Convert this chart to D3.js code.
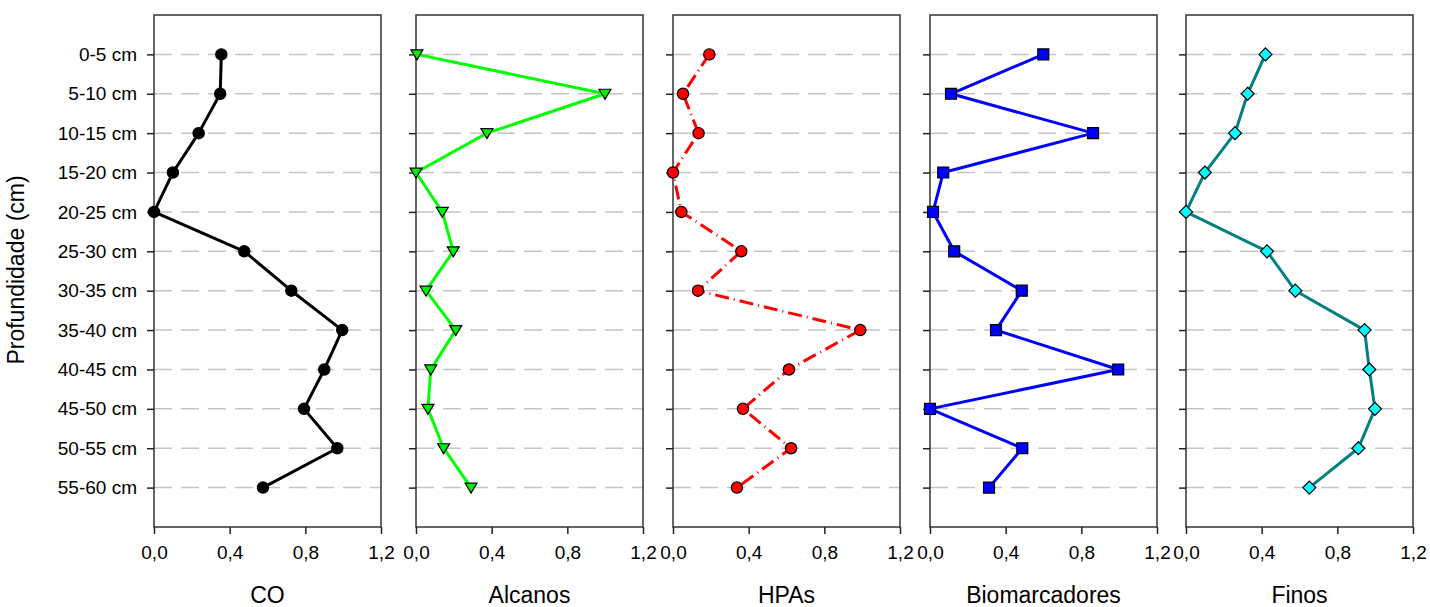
<!DOCTYPE html>
<html>
<head>
<meta charset="utf-8">
<script src="https://cdn.jsdelivr.net/npm/d3@7"></script>
<style>
  body { margin: 0; background: #fff; }
  text { font-family: "Liberation Sans", Arial, sans-serif; fill: #000; }
</style>
</head>
<body>
<svg id="chart"></svg>
<script>
// depth classes (y categories)
var depths = ['0-5 cm', '5-10 cm', '10-15 cm', '15-20 cm', '20-25 cm', '25-30 cm',
              '30-35 cm', '35-40 cm', '40-45 cm', '45-50 cm', '50-55 cm', '55-60 cm'];
var xTicks = [0, 0.4, 0.8, 1.2];

// normalised values
var co = [0.356, 0.35, 0.236, 0.10, 0.0, 0.477, 0.726, 0.995, 0.90, 0.793, 0.969, 0.576];
var alcanos = [0.005, 0.999, 0.375, 0.0, 0.139, 0.197, 0.053, 0.21, 0.078, 0.063, 0.146, 0.291];
var hpas = [0.192, 0.053, 0.135, 0.0, 0.044, 0.361, 0.132, 0.99, 0.613, 0.37, 0.624, 0.338];
var biomarcadores = [0.599, 0.111, 0.862, 0.07, 0.016, 0.128, 0.485, 0.349, 0.995, 0.0, 0.488, 0.312];
var finos = [0.42, 0.326, 0.259, 0.10, 0.0, 0.428, 0.578, 0.944, 0.969, 0.999, 0.911, 0.652];

var panels = [
  { name: 'CO', values: co, line: '#000000', fill: '#000000', symbol: d3.symbolCircle, size: 100, dash: null, left: 154 },
  { name: 'Alcanos', values: alcanos, line: '#00ff00', fill: '#00ee00', symbol: 'tri', size: 0, dash: null, left: 416 },
  { name: 'HPAs', values: hpas, line: '#ff0000', fill: '#ff0000', symbol: d3.symbolCircle, size: 100, dash: '14,5,1,5', left: 673 },
  { name: 'Biomarcadores', values: biomarcadores, line: '#0000ff', fill: '#0000ff', symbol: d3.symbolSquare, size: 120, dash: null, left: 930 },
  { name: 'Finos', values: finos, line: '#008080', fill: '#00ffff', symbol: 'diamond', size: 0, dash: null, left: 1186 }
];

var svgWidth = 1430, svgHeight = 607;
var plotTop = 15, plotBottom = 527, pw = 227;

var svg = d3.select('#chart')
    .attr('width', svgWidth)
    .attr('height', svgHeight);

var y = d3.scalePoint().domain(depths).range([plotTop, plotBottom]).padding(1);
var fmt = function(d) { return d3.format('.1f')(d).replace('.', ','); };

panels.forEach(function(p, i) {
    var x = d3.scaleLinear().domain([0, 1.2]).range([0, pw]);
    var g = svg.append('g').attr('transform', 'translate(' + p.left + ',0)');

    // dashed grid lines
    g.append('g').selectAll('line')
        .data(depths)
        .enter().append('line')
        .attr('x1', 0).attr('x2', pw)
        .attr('y1', function(d) { return y(d); })
        .attr('y2', function(d) { return y(d); })
        .attr('stroke', '#c4c4c4')
        .attr('stroke-width', 1.5)
        .attr('stroke-dasharray', '18,9');

    // frame
    g.append('rect')
        .attr('x', 0).attr('y', plotTop)
        .attr('width', pw).attr('height', plotBottom - plotTop)
        .attr('fill', 'none')
        .attr('stroke', '#333')
        .attr('stroke-width', 1.5);

    var ya = g.append('g')
        .call(d3.axisLeft(y).tickSize(7).tickPadding(10)
            .tickFormat(i === 0 ? null : function() { return ''; }));
    ya.select('.domain').remove();
    ya.selectAll('line').attr('stroke', '#222').attr('stroke-width', 1.5);
    ya.selectAll('text').style('font-size', '19px');

    var xa = g.append('g')
        .attr('transform', 'translate(0,' + plotBottom + ')')
        .call(d3.axisBottom(x).tickValues(xTicks).tickSize(7).tickPadding(12).tickFormat(fmt));
    xa.select('.domain').remove();
    xa.selectAll('line').attr('stroke', '#222').attr('stroke-width', 1.5);
    xa.selectAll('text').style('font-size', '19px');

    g.append('text')
        .attr('x', pw / 2)
        .attr('y', 603)
        .attr('text-anchor', 'middle')
        .style('font-size', '23px')
        .text(p.name);

    var line = d3.line()
        .x(function(d) { return x(d); })
        .y(function(d, j) { return y(depths[j]); });

    g.append('path')
        .datum(p.values)
        .attr('fill', 'none')
        .attr('stroke', p.line)
        .attr('stroke-width', 3)
        .attr('stroke-linejoin', 'round')
        .attr('stroke-dasharray', p.dash)
        .attr('d', line);

    var shape;
    if (p.symbol === 'tri') {
        shape = 'M-6,-4.5L6,-4.5L0,5.5Z';
    } else if (p.symbol === 'diamond') {
        shape = 'M0,-6.5L6.5,0L0,6.5L-6.5,0Z';
    } else {
        shape = d3.symbol().type(p.symbol).size(p.size)();
    }

    g.append('g').selectAll('path')
        .data(p.values)
        .enter().append('path')
        .attr('transform', function(d, j) { return 'translate(' + x(d) + ',' + y(depths[j]) + ')'; })
        .attr('d', shape)
        .attr('fill', p.fill)
        .attr('stroke', '#000')
        .attr('stroke-width', 1.2);
});

svg.append('text')
    .attr('transform', 'translate(24,270) rotate(-90)')
    .attr('text-anchor', 'middle')
    .style('font-size', '23px')
    .text('Profundidade (cm)');
</script>
</body>
</html>
